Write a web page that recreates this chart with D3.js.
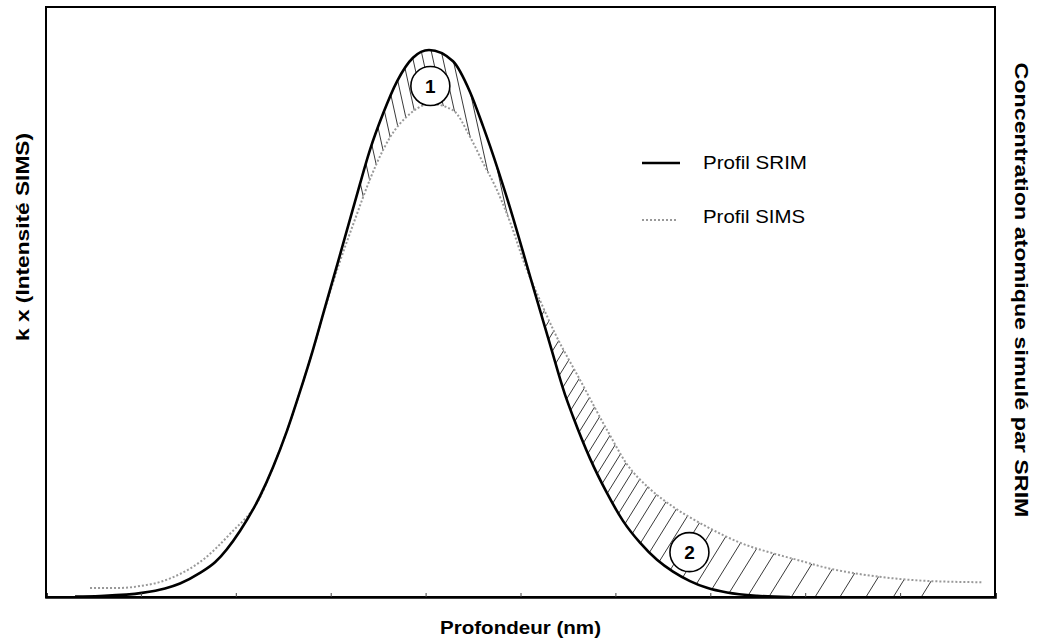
<!DOCTYPE html>
<html>
<head>
<meta charset="utf-8">
<script src="https://cdn.jsdelivr.net/npm/d3@7"></script>
<style>
  body { margin: 0; background: #fff; }
  svg { display: block; }
  text { font-family: "Liberation Sans", Arial, Helvetica, sans-serif; fill: #000; }
</style>
</head>
<body>
<svg id="chart" width="1037" height="639"></svg>
<script>
// Depth (arbitrary units, 0-100) and relative intensity (0-100) of each profile
const srimDepth = [3.06, 5.69, 10.12, 12.54, 14.12, 16.23, 17.81, 20.44, 22.55, 23.92, 25.40, 26.76, 28.13, 29.40,
  30.77, 32.56, 34.14, 35.51, 36.99, 38.67, 40.36, 42.89, 44.68, 46.05, 47.63, 48.89, 51.00, 53.11, 54.69, 55.53,
  57.32, 59.12, 60.80, 62.59, 64.38, 66.07, 67.86, 69.65, 71.76, 74.92, 78.40];
const srimValue = [0.06, 0.17, 0.70, 1.45, 2.3, 4.1, 5.9, 11.2, 17.1, 22.0, 28.2, 34.8, 41.9, 49.1,
  56.8, 67.0, 75.8, 81.9, 87.4, 91.4, 92.7, 90.8, 85.6, 79.8, 72.4, 66.0, 54.4, 42.8, 34.3, 30.6,
  23.5, 17.6, 12.9, 9.2, 6.3, 4.3, 2.7, 1.55, 0.75, 0.2, 0.0];

const simsDepth = [4.64, 7.80, 9.91, 12.01, 14.12, 16.23, 19.39, 22.55, 23.92, 25.40, 26.76, 28.13, 29.40, 30.77,
  32.56, 34.14, 34.88, 36.25, 38.36, 40.46, 42.89, 44.68, 46.05, 47.31, 48.89, 50.47, 52.05, 53.63, 56.27, 59.12,
  61.22, 63.65, 66.07, 69.65, 73.13, 76.61, 79.14, 82.61, 86.09, 89.67, 93.15, 98.74];
const simsValue = [1.53, 1.53, 1.86, 2.54, 3.9, 5.93, 10.7, 16.9, 22.0, 28.2, 34.8, 41.9, 48.9, 55.9,
  64.0, 70.8, 73.6, 77.9, 81.9, 83.6, 82.5, 78.0, 73.6, 69.7, 63.6, 56.3, 50.3, 44.7, 36.8, 28.3,
  22.5, 18.3, 15.3, 11.9, 9.2, 7.4, 6.3, 4.8, 3.8, 3.1, 2.7, 2.5];

const xTicks = [10, 20, 30, 40, 50, 60, 70, 80, 90];
const seriesNames = ["Profil SRIM", "Profil SIMS"];
const xTitle = "Profondeur (nm)";
const yLeftTitle = "k x (Intensité SIMS)";
const yRightTitle = "Concentration atomique simulé par SRIM";

// Numbered zones: 1 = SRIM above SIMS near the peak, 2 = SIMS tail above SRIM
const zoneLabels = ["1", "2"];
const zoneDepth = [40.5, 67.8];
const zoneValue = [86.6, 7.6];

const W = 1037, H = 639;
const plot = { left: 46, right: 995, top: 7, bottom: 597 };

const svg = d3.select("#chart");
svg.append("rect").attr("width", W).attr("height", H).attr("fill", "#fff");

const x = d3.scaleLinear().domain([0, 100]).range([plot.left, plot.right]);
const y = d3.scaleLinear().domain([0, 100]).range([plot.bottom, plot.top]);

const srim = srimDepth.map((d, i) => [d, srimValue[i]]);
const sims = simsDepth.map((d, i) => [d, simsValue[i]]);

const curve = d3.curveMonotoneX;
const line = d3.line().x(d => x(d[0])).y(d => y(d[1])).curve(curve);
const area = d3.area().x(d => x(d[0])).y0(y(0)).y1(d => y(d[1])).curve(curve);

const defs = svg.append("defs");

// Mask for zone 1: under SRIM but above SIMS
const m1 = defs.append("mask").attr("id", "zone1")
  .attr("maskUnits", "userSpaceOnUse").attr("x", 0).attr("y", 0).attr("width", W).attr("height", H);
m1.append("path").attr("d", area(srim)).attr("fill", "#fff");
m1.append("path").attr("d", area(sims)).attr("fill", "#000");

// Mask for zone 2: under SIMS but above SRIM
const m2 = defs.append("mask").attr("id", "zone2")
  .attr("maskUnits", "userSpaceOnUse").attr("x", 0).attr("y", 0).attr("width", W).attr("height", H);
m2.append("path").attr("d", area(sims)).attr("fill", "#fff");
m2.append("path").attr("d", area(srim)).attr("fill", "#000");

defs.append("clipPath").attr("id", "clip1").append("rect")
  .attr("x", x(33)).attr("y", plot.top).attr("width", x(51) - x(33)).attr("height", plot.bottom - plot.top);
defs.append("clipPath").attr("id", "clip2").append("rect")
  .attr("x", x(51)).attr("y", plot.top).attr("width", x(94.2) - x(51)).attr("height", plot.bottom - plot.top);

// Hatching of zone 1: steep "\" strokes
const k1 = 0.22;
const h1 = [];
for (let c = 300; c <= 480; c += 10) h1.push(c);
svg.append("g").attr("clip-path", "url(#clip1)")
  .append("g").attr("mask", "url(#zone1)")
  .selectAll("line").data(h1).join("line")
  .attr("x1", c => c + k1 * plot.top).attr("y1", plot.top)
  .attr("x2", c => c + k1 * plot.bottom).attr("y2", plot.bottom)
  .attr("stroke", "#222").attr("stroke-width", 0.9);

// Hatching of zone 2: "/" strokes, spreading out along the tail
const k2 = 0.62;
const h2 = [];
for (let c = 660; c <= 1330;) {
  h2.push(c);
  c += c < 900 ? 11 : 11 + (Math.min(c, 1250) - 900) / 350 * 17;
}
svg.append("g").attr("clip-path", "url(#clip2)")
  .append("g").attr("mask", "url(#zone2)")
  .selectAll("line").data(h2).join("line")
  .attr("x1", c => c - k2 * plot.top).attr("y1", plot.top)
  .attr("x2", c => c - k2 * plot.bottom).attr("y2", plot.bottom)
  .attr("stroke", "#222").attr("stroke-width", 0.9);

// Profiles
svg.append("path").attr("d", line(sims))
  .attr("fill", "none").attr("stroke", "#999").attr("stroke-width", 2)
  .attr("stroke-dasharray", "2,2");
svg.append("path").attr("d", line(srim))
  .attr("fill", "none").attr("stroke", "#000").attr("stroke-width", 2.6)
  .attr("stroke-linejoin", "round");

// Zone markers
const zones = svg.append("g").selectAll("g").data(zoneLabels).join("g")
  .attr("transform", (d, i) => `translate(${x(zoneDepth[i])},${y(zoneValue[i])})`);
zones.append("circle").attr("r", 19.5).attr("fill", "#fff").attr("stroke", "#000").attr("stroke-width", 1.6);
zones.append("text").text(d => d).attr("text-anchor", "middle").attr("dy", "0.36em")
  .attr("font-size", 19).attr("font-weight", "bold");

// Frame
svg.append("rect")
  .attr("x", plot.left).attr("y", plot.top)
  .attr("width", plot.right - plot.left).attr("height", plot.bottom - plot.top)
  .attr("fill", "none").attr("stroke", "#000").attr("stroke-width", 2);

// Bottom axis: inward ticks, no labels
const ax = svg.append("g").attr("transform", `translate(0,${plot.bottom})`)
  .call(d3.axisBottom(x).tickValues(xTicks).tickSize(-4).tickFormat(""));
ax.select(".domain").attr("stroke", "#000").attr("stroke-width", 2.6);
ax.selectAll(".tick line").attr("stroke", "#444").attr("stroke-width", 1);

// Axis titles
svg.append("text").text(xTitle)
  .attr("x", (plot.left + plot.right) / 2).attr("y", 634)
  .attr("text-anchor", "middle").attr("font-size", 18).attr("font-weight", "bold")
  .attr("textLength", 161).attr("lengthAdjust", "spacingAndGlyphs");

svg.append("text").text(yLeftTitle)
  .attr("transform", "translate(29,237) rotate(-90)")
  .attr("text-anchor", "middle").attr("font-size", 18).attr("font-weight", "bold")
  .attr("textLength", 208).attr("lengthAdjust", "spacingAndGlyphs");

svg.append("text").text(yRightTitle)
  .attr("transform", "translate(1015,290) rotate(90)")
  .attr("text-anchor", "middle").attr("font-size", 18).attr("font-weight", "bold")
  .attr("textLength", 455).attr("lengthAdjust", "spacingAndGlyphs");

// Legend
const legend = svg.append("g");
const legendRows = [
  { name: seriesNames[0], ly: 163, ty: 169, stroke: "#000", width: 2.6, dash: null, len: 38, tl: 104 },
  { name: seriesNames[1], ly: 220, ty: 223, stroke: "#999", width: 2, dash: "2,2", len: 34, tl: 102 }
];
legendRows.forEach(r => {
  legend.append("line").attr("x1", 642).attr("x2", 642 + r.len).attr("y1", r.ly).attr("y2", r.ly)
    .attr("stroke", r.stroke).attr("stroke-width", r.width).attr("stroke-dasharray", r.dash);
  legend.append("text").text(r.name).attr("x", 703).attr("y", r.ty)
    .attr("font-size", 19).attr("textLength", r.tl).attr("lengthAdjust", "spacingAndGlyphs");
});
</script>
</body>
</html>
